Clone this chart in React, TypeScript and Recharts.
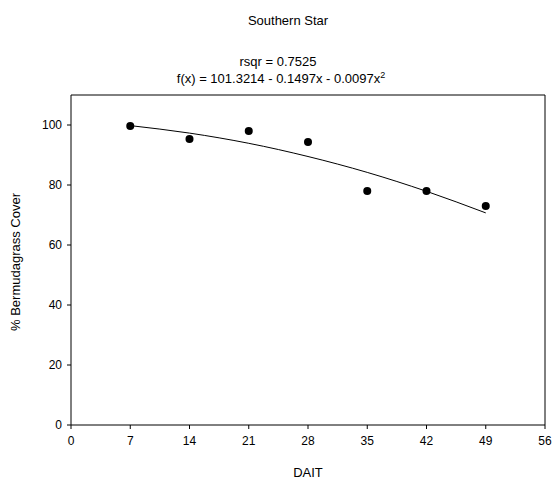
import React from 'react';
import { ComposedChart, Scatter, Line, XAxis, YAxis, ReferenceLine } from 'recharts';

// observed cover by days after initial treatment
const dait = [7, 14, 21, 28, 35, 42, 49];
const cover = [99.7, 95.3, 98.0, 94.3, 78.0, 78.0, 73.0];
// fitted regression curve at the same days
const fitCover = [99.8, 97.3, 93.9, 89.5, 84.2, 77.9, 70.7];

const xTicks = [0, 7, 14, 21, 28, 35, 42, 49, 56];
const yTicks = [0, 20, 40, 60, 80, 100];

const points = dait.map((d, i) => ({ x: d, y: cover[i] }));
const fit = dait.map((d, i) => ({ x: d, y: fitCover[i] }));

const font = 'Liberation Sans, Arial, sans-serif';

const App = () => {
  return (
    <div style={{ position: 'absolute', left: 0, top: 0, fontFamily: font }}>
      <ComposedChart width={558} height={484} margin={{ top: 95, right: 13, bottom: 0, left: 31 }}>
        <XAxis
          dataKey="x"
          type="number"
          domain={[0, 56]}
          ticks={xTicks}
          height={59}
          tickSize={4}
          tickMargin={7}
          stroke="#000"
          tick={{ fill: '#000', fontSize: 12, fontFamily: font }}
          allowDataOverflow
        />
        <YAxis
          type="number"
          domain={[0, 110]}
          ticks={yTicks}
          width={40}
          tickSize={4}
          tickMargin={5}
          stroke="#000"
          tick={{ fill: '#000', fontSize: 12, fontFamily: font }}
          allowDataOverflow
        />
        <ReferenceLine y={110} stroke="#000" />
        <ReferenceLine x={56} stroke="#000" />
        <Line
          data={fit}
          dataKey="y"
          type="monotone"
          stroke="#000"
          strokeWidth={1}
          dot={false}
          activeDot={false}
          isAnimationActive={false}
        />
        <Scatter data={points} dataKey="y" fill="#000" shape={(p: any) => <circle cx={p.cx} cy={p.cy} r={4} fill="#000" />} isAnimationActive={false} />
        <text x={288} y={25} textAnchor="middle" fontSize={13} fontFamily={font}>Southern Star</text>
        <text x={278} y={66} textAnchor="middle" fontSize={13} fontFamily={font}>rsqr = 0.7525</text>
        <text x={281} y={83} textAnchor="middle" fontSize={13} fontFamily={font}>
          f(x) = 101.3214 - 0.1497x - 0.0097x<tspan dy={-5} fontSize={9}>2</tspan>
        </text>
        <text x={308} y={477} textAnchor="middle" fontSize={13} fontFamily={font}>DAIT</text>
        <text
          x={17}
          y={262}
          textAnchor="middle"
          dominantBaseline="middle"
          fontSize={13}
          fontFamily={font}
          transform="rotate(-90 17 262)"
        >
          % Bermudagrass Cover
        </text>
      </ComposedChart>
    </div>
  );
};

export default App;
